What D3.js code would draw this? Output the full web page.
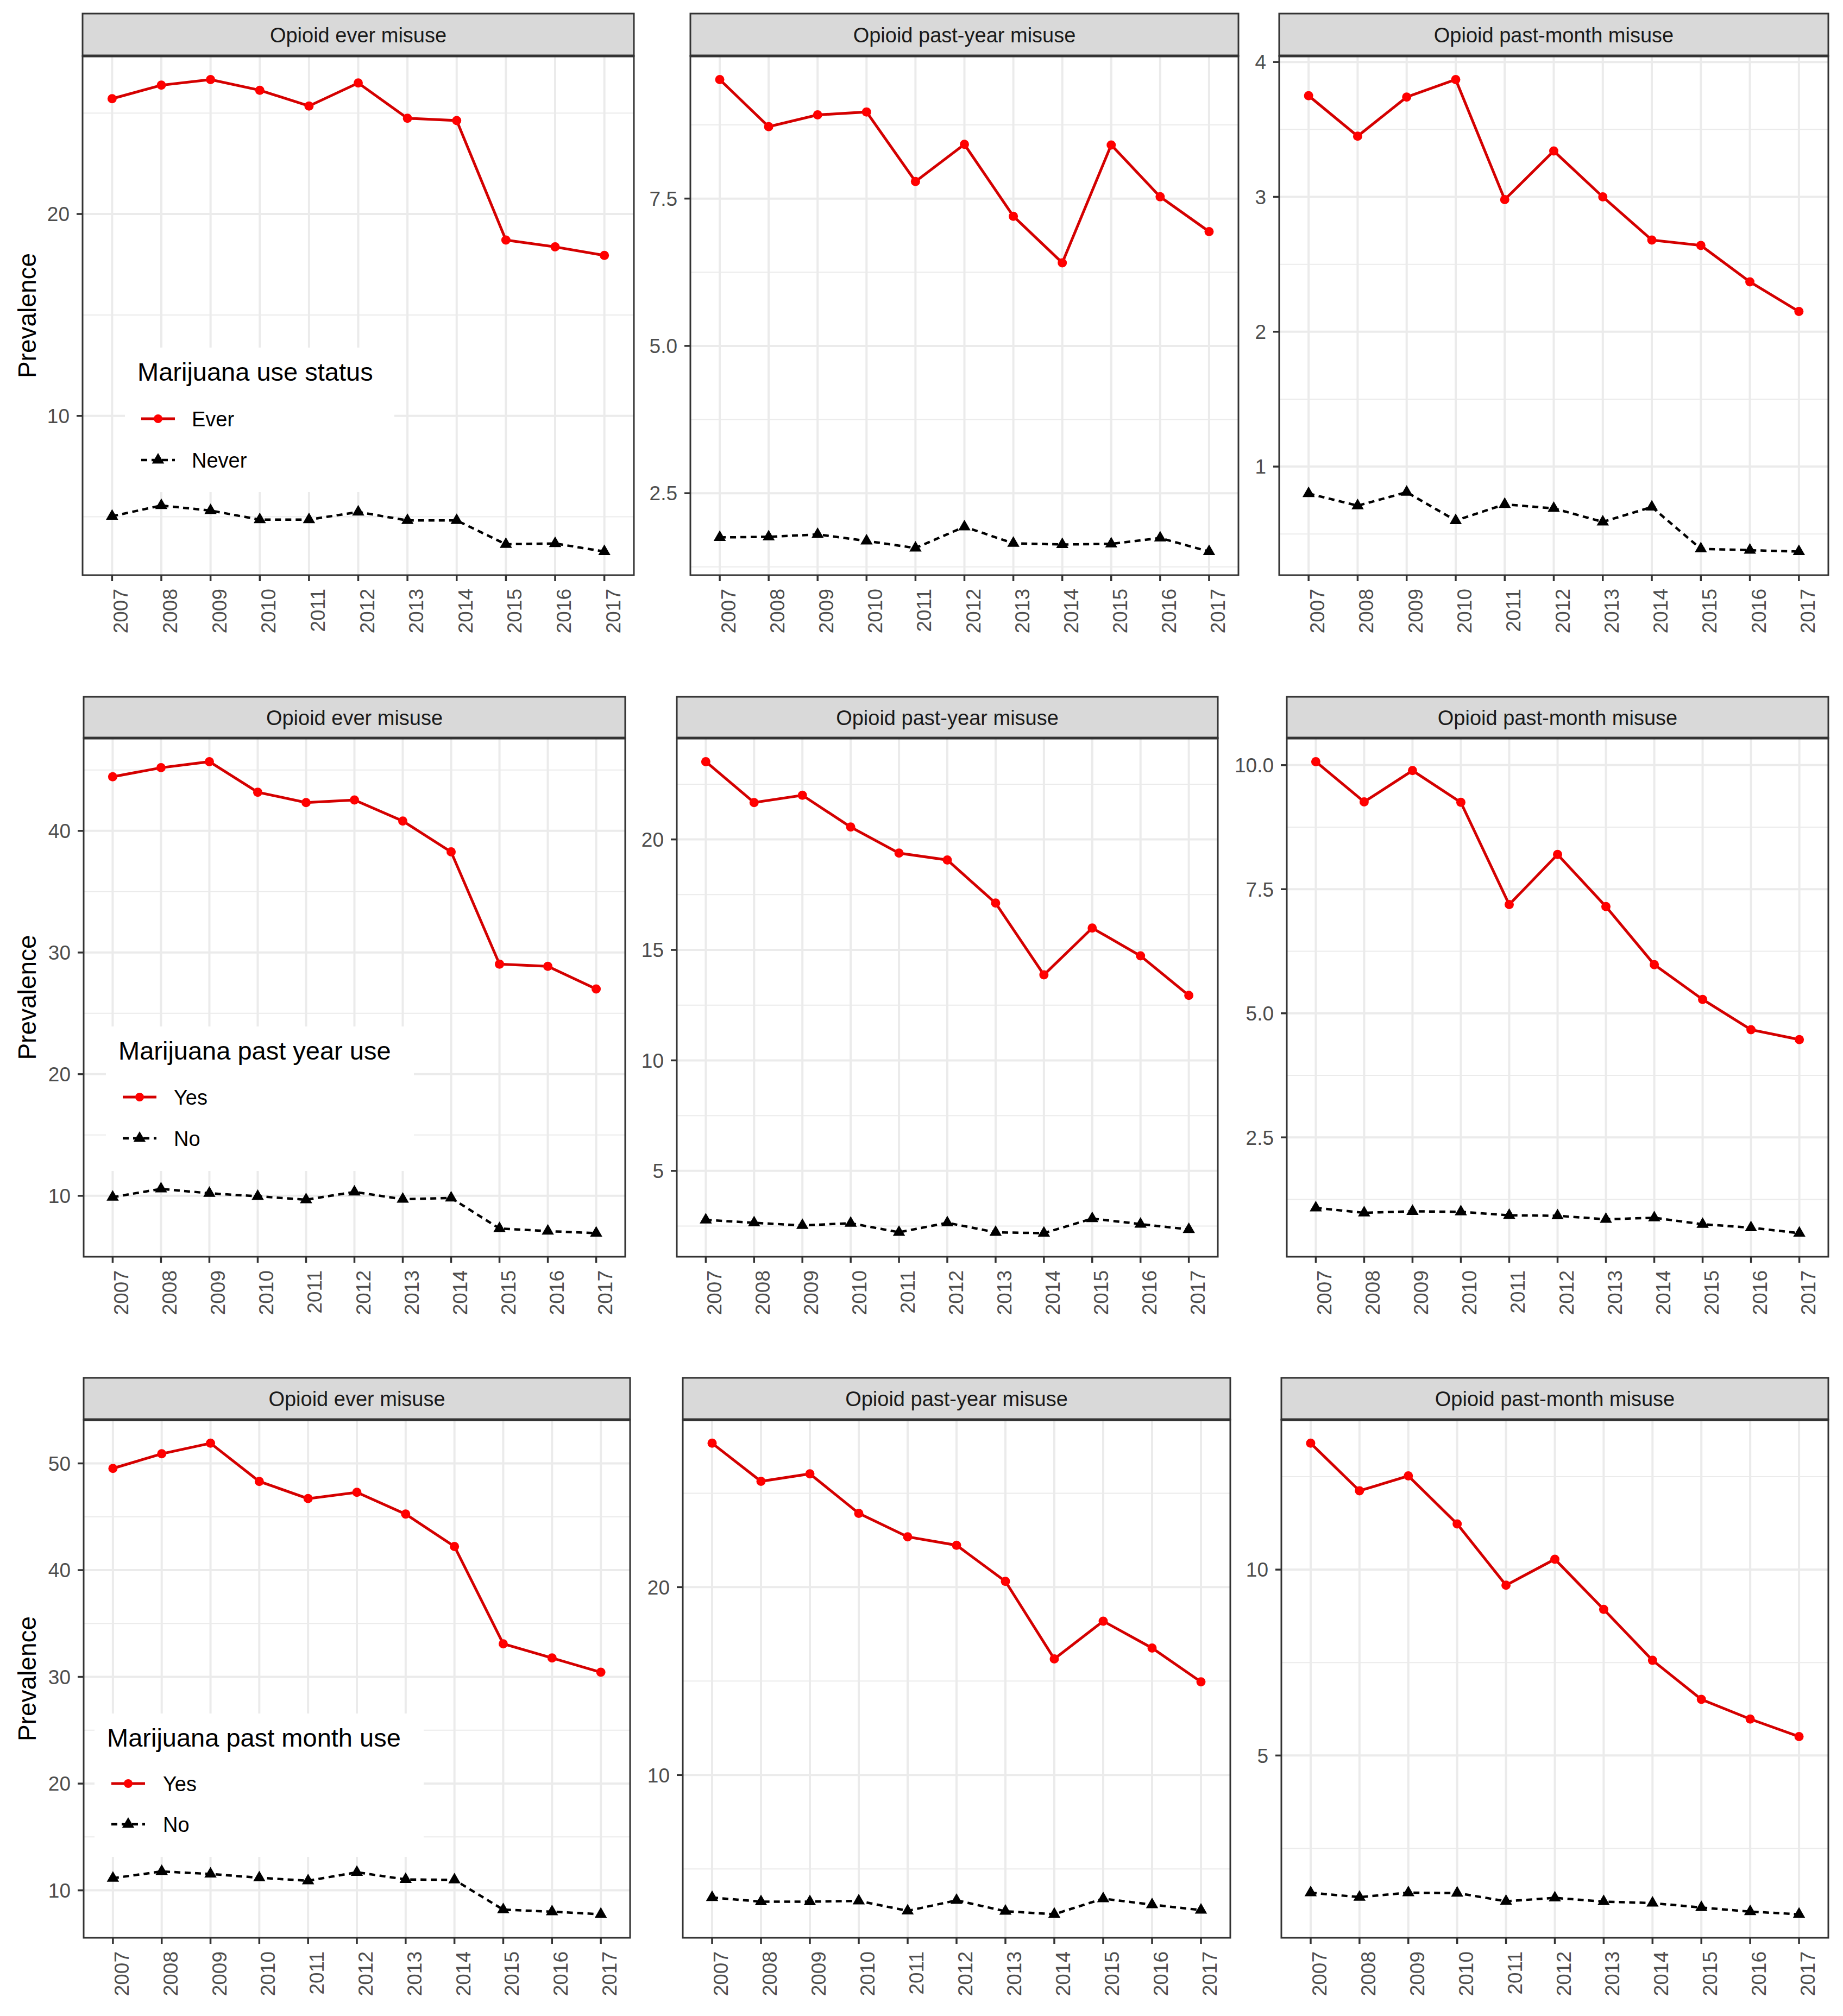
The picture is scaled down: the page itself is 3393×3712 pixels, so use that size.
<!DOCTYPE html>
<html>
<head>
<meta charset="utf-8">
<script src="https://cdn.jsdelivr.net/npm/d3@7"></script>
<style>
  body { margin: 0; background: #fff; }
  svg { display: block; }
  text { font-family: "Liberation Sans", Arial, sans-serif; }
</style>
</head>
<body>
<div class="chart-container"></div>
<script>
"use strict";

// Categories
const years = ["2007", "2008", "2009", "2010", "2011", "2012", "2013", "2014", "2015", "2016", "2017"];
const stripTitles = ["Opioid ever misuse", "Opioid past-year misuse", "Opioid past-month misuse"];

// Row 1: marijuana use status (Ever / Never)
const r1EverMisuseEver  = [25.71, 26.38, 26.66, 26.13, 25.35, 26.49, 24.74, 24.63, 18.71, 18.37, 17.95];
const r1EverMisuseNever = [5.03, 5.56, 5.31, 4.86, 4.86, 5.24, 4.82, 4.82, 3.64, 3.68, 3.28];
const r1PastYearEver    = [9.52, 8.72, 8.92, 8.97, 7.79, 8.42, 7.20, 6.41, 8.41, 7.53, 6.94];
const r1PastYearNever   = [1.75, 1.76, 1.80, 1.69, 1.57, 1.93, 1.65, 1.63, 1.64, 1.74, 1.51];
const r1PastMonthEver   = [3.75, 3.45, 3.74, 3.87, 2.98, 3.34, 3.00, 2.68, 2.64, 2.37, 2.15];
const r1PastMonthNever  = [0.80, 0.71, 0.81, 0.60, 0.72, 0.69, 0.59, 0.70, 0.39, 0.38, 0.37];

// Row 2: marijuana past year use (Yes / No)
const r2EverMisuseYes  = [44.45, 45.19, 45.69, 43.18, 42.33, 42.54, 40.81, 38.27, 29.05, 28.87, 27.00];
const r2EverMisuseNo   = [9.89, 10.57, 10.21, 9.96, 9.68, 10.32, 9.72, 9.82, 7.31, 7.10, 6.93];
const r2PastYearYes    = [23.52, 21.67, 22.00, 20.56, 19.38, 19.07, 17.12, 13.87, 15.99, 14.73, 12.94];
const r2PastYearNo     = [2.78, 2.65, 2.53, 2.63, 2.22, 2.65, 2.22, 2.18, 2.84, 2.59, 2.35];
const r2PastMonthYes   = [10.07, 9.26, 9.89, 9.25, 7.19, 8.20, 7.15, 5.98, 5.28, 4.67, 4.47];
const r2PastMonthNo    = [1.08, 0.98, 1.01, 1.00, 0.93, 0.92, 0.85, 0.88, 0.75, 0.68, 0.57];

// Row 3: marijuana past month use (Yes / No)
const r3EverMisuseYes  = [49.53, 50.90, 51.89, 48.31, 46.70, 47.29, 45.25, 42.22, 33.10, 31.77, 30.43];
const r3EverMisuseNo   = [11.14, 11.77, 11.53, 11.18, 10.90, 11.69, 11.02, 10.98, 8.19, 8.00, 7.76];
const r3PastYearYes    = [27.66, 25.63, 26.03, 23.93, 22.68, 22.23, 20.31, 16.18, 18.19, 16.76, 14.96];
const r3PastYearNo     = [3.48, 3.26, 3.26, 3.30, 2.77, 3.33, 2.75, 2.59, 3.42, 3.10, 2.81];
const r3PastMonthYes   = [13.40, 12.12, 12.52, 11.23, 9.58, 10.28, 8.93, 7.56, 6.51, 5.98, 5.51];
const r3PastMonthNo    = [1.31, 1.19, 1.31, 1.30, 1.08, 1.17, 1.07, 1.03, 0.91, 0.80, 0.73];

// Y tick values and labels for each panel
const ticksP1 = [10, 20];              const labelsP1 = ["10", "20"];
const ticksP2 = [2.5, 5, 7.5];         const labelsP2 = ["2.5", "5.0", "7.5"];
const ticksP3 = [1, 2, 3, 4];          const labelsP3 = ["1", "2", "3", "4"];
const ticksP4 = [10, 20, 30, 40];      const labelsP4 = ["10", "20", "30", "40"];
const ticksP5 = [5, 10, 15, 20];       const labelsP5 = ["5", "10", "15", "20"];
const ticksP6 = [2.5, 5, 7.5, 10];     const labelsP6 = ["2.5", "5.0", "7.5", "10.0"];
const ticksP7 = [10, 20, 30, 40, 50];  const labelsP7 = ["10", "20", "30", "40", "50"];
const ticksP8 = [10, 20];              const labelsP8 = ["10", "20"];
const ticksP9 = [5, 10];               const labelsP9 = ["5", "10"];

// Legend texts
const legendTitles = ["Marijuana use status", "Marijuana past year use", "Marijuana past month use"];
const legendLabels = [["Ever", "Never"], ["Yes", "No"], ["Yes", "No"]];

// ---- layout ----
const W = 3393, H = 3712;
const rows = [
  {stripTop: 25,   top: 103,  bottom: 1059},
  {stripTop: 1283, top: 1359, bottom: 2314},
  {stripTop: 2537, top: 2614, bottom: 3568}
];
const cols = [
  [[152, 1167], [1271, 2280], [2355, 3366]],
  [[154, 1151], [1246, 2242], [2369, 3366]],
  [[154, 1160], [1257, 2265], [2359, 3366]]
];
const legendLayout = [
  {box: [230, 640, 726, 906],   titleX: 253, titleY: 701,  keyX: [260, 322], labelX: 353, keyY: [771, 847]},
  {box: [195, 1890, 762, 2156], titleX: 218, titleY: 1951, keyX: [226, 288], labelX: 320, keyY: [2020, 2096]},
  {box: [174, 3155, 780, 3419], titleX: 197, titleY: 3216, keyX: [205, 267], labelX: 300, keyY: [3284, 3359]}
];

const panels = [
  {row: 0, col: 0, yes: r1EverMisuseEver, no: r1EverMisuseNever, ticks: ticksP1, labels: labelsP1},
  {row: 0, col: 1, yes: r1PastYearEver,   no: r1PastYearNever,   ticks: ticksP2, labels: labelsP2},
  {row: 0, col: 2, yes: r1PastMonthEver,  no: r1PastMonthNever,  ticks: ticksP3, labels: labelsP3},
  {row: 1, col: 0, yes: r2EverMisuseYes,  no: r2EverMisuseNo,    ticks: ticksP4, labels: labelsP4},
  {row: 1, col: 1, yes: r2PastYearYes,    no: r2PastYearNo,      ticks: ticksP5, labels: labelsP5},
  {row: 1, col: 2, yes: r2PastMonthYes,   no: r2PastMonthNo,     ticks: ticksP6, labels: labelsP6},
  {row: 2, col: 0, yes: r3EverMisuseYes,  no: r3EverMisuseNo,    ticks: ticksP7, labels: labelsP7},
  {row: 2, col: 1, yes: r3PastYearYes,    no: r3PastYearNo,      ticks: ticksP8, labels: labelsP8},
  {row: 2, col: 2, yes: r3PastMonthYes,   no: r3PastMonthNo,     ticks: ticksP9, labels: labelsP9}
];

const redLine = "#d40000";
const redPoint = "#ff0000";
const dark = "#333333";
const gridCol = "#ebebeb";
const axisText = "#4d4d4d";
const triangle = d3.symbol().type(d3.symbolTriangle).size(220);

const svg = d3.select(".chart-container")
  .append("svg")
  .attr("width", W)
  .attr("height", H);

svg.append("rect").attr("width", W).attr("height", H).attr("fill", "#fff");

function drawPanel(p) {
  const r = rows[p.row];
  const [x0, x1] = cols[p.row][p.col];
  const g = svg.append("g");

  const x = d3.scalePoint()
    .domain(years)
    .range([x0, x1])
    .padding(0.6);

  // ggplot-like 5% expansion on y
  const ext = d3.extent(p.yes.concat(p.no));
  const pad = (ext[1] - ext[0]) * 0.05;
  const y = d3.scaleLinear()
    .domain([ext[0] - pad, ext[1] + pad])
    .range([r.bottom, r.top]);

  // minor breaks halfway between majors
  const step = p.ticks.length > 1 ? p.ticks[1] - p.ticks[0] : 5;
  const minors = d3.range(p.ticks[0] - step / 2, p.ticks[p.ticks.length - 1] + step, step)
    .filter(v => v > y.domain()[0] && v < y.domain()[1]);

  g.selectAll(".minor").data(minors).enter().append("line")
    .attr("x1", x0).attr("x2", x1)
    .attr("y1", d => y(d)).attr("y2", d => y(d))
    .attr("stroke", gridCol).attr("stroke-width", 2);

  g.selectAll(".hmajor").data(p.ticks).enter().append("line")
    .attr("x1", x0).attr("x2", x1)
    .attr("y1", d => y(d)).attr("y2", d => y(d))
    .attr("stroke", gridCol).attr("stroke-width", 4);

  g.selectAll(".vmajor").data(years).enter().append("line")
    .attr("x1", d => x(d)).attr("x2", d => x(d))
    .attr("y1", r.top).attr("y2", r.bottom)
    .attr("stroke", gridCol).attr("stroke-width", 4);

  // legend background (first column only)
  if (p.col === 0) {
    const L = legendLayout[p.row];
    g.append("rect")
      .attr("x", L.box[0]).attr("y", L.box[1])
      .attr("width", L.box[2] - L.box[0]).attr("height", L.box[3] - L.box[1])
      .attr("fill", "#fff");
  }

  const line = d3.line().x((d, i) => x(years[i])).y(d => y(d));

  g.append("path").datum(p.no)
    .attr("d", line).attr("fill", "none")
    .attr("stroke", "#000").attr("stroke-width", 4.5)
    .attr("stroke-dasharray", "11,8");

  g.append("path").datum(p.yes)
    .attr("d", line).attr("fill", "none")
    .attr("stroke", redLine).attr("stroke-width", 5);

  g.selectAll(".tri").data(p.no).enter().append("path")
    .attr("d", triangle)
    .attr("transform", (d, i) => `translate(${x(years[i])},${y(d)})`)
    .attr("fill", "#000");

  g.selectAll(".dot").data(p.yes).enter().append("circle")
    .attr("cx", (d, i) => x(years[i]))
    .attr("cy", d => y(d))
    .attr("r", 8.5)
    .attr("fill", redPoint);

  // panel border
  g.append("rect")
    .attr("x", x0).attr("y", r.top)
    .attr("width", x1 - x0).attr("height", r.bottom - r.top)
    .attr("fill", "none").attr("stroke", dark).attr("stroke-width", 3);

  // strip
  g.append("rect")
    .attr("x", x0).attr("y", r.stripTop)
    .attr("width", x1 - x0).attr("height", r.top - r.stripTop)
    .attr("fill", "#d9d9d9").attr("stroke", dark).attr("stroke-width", 3);
  g.append("line")
    .attr("x1", x0).attr("x2", x1)
    .attr("y1", r.top).attr("y2", r.top)
    .attr("stroke", dark).attr("stroke-width", 5);
  g.append("text")
    .attr("x", (x0 + x1) / 2).attr("y", (r.stripTop + r.top) / 2)
    .attr("dy", "0.36em")
    .attr("text-anchor", "middle")
    .attr("font-size", 38)
    .attr("fill", "#1a1a1a")
    .text(stripTitles[p.col]);

  // y axis ticks + labels
  g.selectAll(".ytick").data(p.ticks).enter().append("line")
    .attr("x1", x0 - 11).attr("x2", x0)
    .attr("y1", d => y(d)).attr("y2", d => y(d))
    .attr("stroke", dark).attr("stroke-width", 3.5);
  g.selectAll(".ylab").data(p.ticks).enter().append("text")
    .attr("x", x0 - 24).attr("y", d => y(d))
    .attr("dy", "0.36em")
    .attr("text-anchor", "end")
    .attr("font-size", 37)
    .attr("fill", axisText)
    .text((d, i) => p.labels[i]);

  // x axis ticks + rotated labels
  g.selectAll(".xtick").data(years).enter().append("line")
    .attr("x1", d => x(d)).attr("x2", d => x(d))
    .attr("y1", r.bottom).attr("y2", r.bottom + 11)
    .attr("stroke", dark).attr("stroke-width", 3.5);
  g.selectAll(".xlab").data(years).enter().append("text")
    .attr("transform", d => `translate(${x(d)},${r.bottom + 25}) rotate(-90)`)
    .attr("dy", 29)
    .attr("text-anchor", "end")
    .attr("font-size", 37)
    .attr("fill", axisText)
    .text(d => d);

  if (p.col === 0) {
    // axis title
    g.append("text")
      .attr("transform", `translate(66,${(r.top + r.bottom) / 2}) rotate(-90)`)
      .attr("text-anchor", "middle")
      .attr("font-size", 46)
      .attr("fill", "#000")
      .text("Prevalence");

    // legend
    const L = legendLayout[p.row];
    g.append("text")
      .attr("x", L.titleX).attr("y", L.titleY)
      .attr("font-size", 47)
      .attr("fill", "#000")
      .text(legendTitles[p.row]);

    const kx = (L.keyX[0] + L.keyX[1]) / 2;
    // Yes / Ever key
    g.append("line")
      .attr("x1", L.keyX[0]).attr("x2", L.keyX[1])
      .attr("y1", L.keyY[0]).attr("y2", L.keyY[0])
      .attr("stroke", redLine).attr("stroke-width", 5);
    g.append("circle")
      .attr("cx", kx).attr("cy", L.keyY[0]).attr("r", 8)
      .attr("fill", redPoint);
    // No / Never key
    g.append("line")
      .attr("x1", L.keyX[0]).attr("x2", L.keyX[1])
      .attr("y1", L.keyY[1]).attr("y2", L.keyY[1])
      .attr("stroke", "#000").attr("stroke-width", 4.5)
      .attr("stroke-dasharray", "11,8");
    g.append("path")
      .attr("d", triangle)
      .attr("transform", `translate(${kx},${L.keyY[1]})`)
      .attr("fill", "#000");

    g.selectAll(".leglab").data(legendLabels[p.row]).enter().append("text")
      .attr("x", L.labelX)
      .attr("y", (d, i) => L.keyY[i])
      .attr("dy", "0.36em")
      .attr("font-size", 38)
      .attr("fill", "#000")
      .text(d => d);
  }
}

panels.forEach(drawPanel);
</script>
</body>
</html>
